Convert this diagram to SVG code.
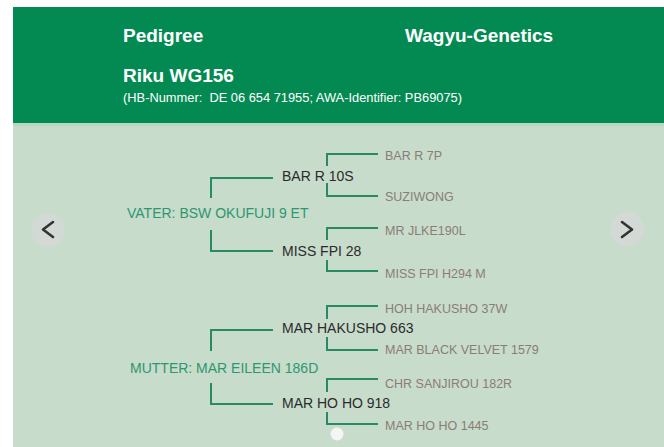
<svg xmlns="http://www.w3.org/2000/svg" width="664" height="447" viewBox="0 0 664 447">
<style>
text{font-family:"Liberation Sans",Arial,sans-serif}
.hd{fill:#fff;font-weight:bold;font-size:19px}
.sub{fill:#fff;font-size:12.5px}
.par{fill:#2f9670;font-size:14px}
.ch{fill:#2b2b2b;font-size:14px}
.gc{fill:#8a7c76;font-size:12.5px}
.ln{fill:none;stroke:#2a8a66;stroke-width:2}
.nav{fill:#d3d9d4}
.chev{fill:none;stroke:#333;stroke-width:2.6;stroke-linecap:round;stroke-linejoin:round}
</style>
<rect x="0" y="0" width="664" height="447" fill="#fff"/>
<rect x="13" y="123" width="651" height="324" fill="#c7dccb"/>
<rect x="13" y="123" width="651" height="3" fill="#b9d6c0"/>
<g id="header">
<rect x="13" y="7" width="651" height="116" fill="#038a52"/>
<text class="hd" x="123" y="42">Pedigree</text>
<text class="hd" x="405" y="42">Wagyu-Genetics</text>
<text class="hd" x="123" y="82" font-size="17.5">Riku WG156</text>
<text class="sub" x="123" y="102" textLength="339" lengthAdjust="spacingAndGlyphs" xml:space="preserve">(HB-Nummer:  DE 06 654 71955; AWA-Identifier: PB69075)</text>
</g>
<g id="connectors">
<path class="ln" d="M211,198 V178 H273"/>
<path class="ln" d="M211,230 V251 H273"/>
<path class="ln" d="M327,166 V154 H378"/>
<path class="ln" d="M327,183 V196 H378"/>
<path class="ln" d="M327,240 V228 H378"/>
<path class="ln" d="M327,260 V271 H378"/>
<path class="ln" d="M211,351 V330 H273"/>
<path class="ln" d="M211,383 V404 H273"/>
<path class="ln" d="M327,319 V306 H378"/>
<path class="ln" d="M327,337 V350 H378"/>
<path class="ln" d="M327,392 V379 H378"/>
<path class="ln" d="M327,412 V424 H378"/>
</g>
<g id="sire"><text class="par" x="127" y="218">VATER: BSW OKUFUJI 9 ET</text></g>
<g id="sire-sire"><text class="ch" x="282" y="181">BAR R 10S</text></g>
<g id="sire-dam"><text class="ch" x="282" y="256">MISS FPI 28</text></g>
<g id="sss"><text class="gc" x="385" y="159.5">BAR R 7P</text></g>
<g id="ssd"><text class="gc" x="385" y="201">SUZIWONG</text></g>
<g id="sds"><text class="gc" x="385" y="235">MR JLKE190L</text></g>
<g id="sdd"><text class="gc" x="385" y="277.5">MISS FPI H294 M</text></g>
<g id="dam"><text class="par" x="130" y="373">MUTTER: MAR EILEEN 186D</text></g>
<g id="dam-sire"><text class="ch" x="282" y="333">MAR HAKUSHO 663</text></g>
<g id="dam-dam"><text class="ch" x="282" y="408">MAR HO HO 918</text></g>
<g id="dss"><text class="gc" x="385" y="312.5">HOH HAKUSHO 37W</text></g>
<g id="dsd"><text class="gc" x="385" y="353.5">MAR BLACK VELVET 1579</text></g>
<g id="dds"><text class="gc" x="385" y="387.5">CHR SANJIROU 182R</text></g>
<g id="ddd"><text class="gc" x="385" y="429.5">MAR HO HO 1445</text></g>
<g id="prev"><circle class="nav" cx="48" cy="230" r="17"/><path class="chev" d="M53,222 L43,229.5 L53,237"/></g>
<g id="next"><circle class="nav" cx="627" cy="229" r="17"/><path class="chev" d="M622,222 L632,229.5 L622,237"/></g>
<g id="dot"><circle cx="337" cy="434" r="6.5" fill="#f4f6f4"/></g>
</svg>
